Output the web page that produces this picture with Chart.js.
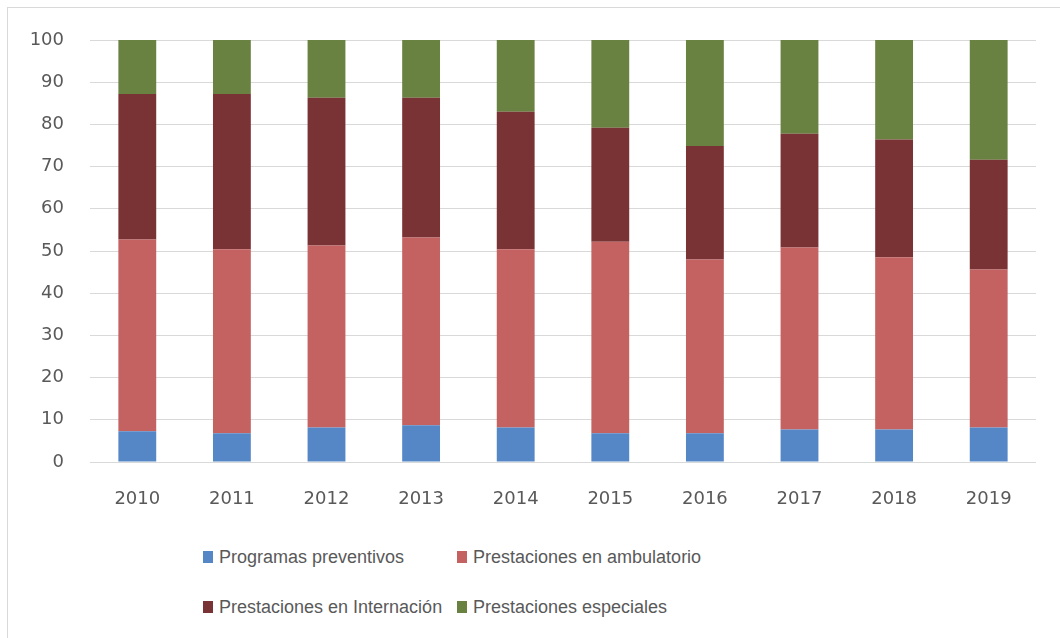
<!DOCTYPE html>
<html>
<head>
  <meta charset="utf-8">
  <script src="https://cdn.jsdelivr.net/npm/chart.js"></script>
  <style>
    body { margin: 0; background: #fff; }
    #frame { position: absolute; left: 7px; top: 7px; width: 1100px; height: 700px; border: 1px solid #d9d9d9; }
    #wrap { position: absolute; left: 0; top: 0; width: 1060px; height: 520px; }
    #legend { position: absolute; left: 203px; top: 546px; display: grid; grid-template-columns: 254px auto; row-gap: 28px;
              font-family: "Liberation Sans", Arial, sans-serif; font-size: 18px; color: #595959; }
    #legend div { display: flex; align-items: center; height: 22px; }
    #legend span.box { display: inline-block; width: 10px; height: 12px; margin-right: 6px; }
  </style>
</head>
<body>
  <div id="frame"></div>
  <div id="wrap"><canvas id="myChart" width="1060" height="520"></canvas></div>
  <div id="legend"></div>

  <script>
    // Años
    const years = ['2010', '2011', '2012', '2013', '2014', '2015', '2016', '2017', '2018', '2019'];

    // Porcentajes por tipo de prestación
    const preventivos   = [7.3, 6.8, 8.2, 8.7, 8.2, 6.8, 6.8, 7.7, 7.7, 8.2];
    const ambulatorio   = [45.4, 43.6, 43.1, 44.5, 42.2, 45.4, 41.2, 43.1, 40.8, 37.4];
    const internacion   = [34.5, 36.8, 35.0, 33.1, 32.6, 27.0, 26.9, 27.0, 27.9, 26.0];
    const especiales    = [12.8, 12.8, 13.7, 13.7, 17.0, 20.8, 25.1, 22.2, 23.6, 28.4];

    const seriesNames = ['Programas preventivos', 'Prestaciones en ambulatorio', 'Prestaciones en Internación', 'Prestaciones especiales'];
    const seriesColors = ['#5587c7', '#c46161', '#7a3334', '#698242'];
    const seriesData = [preventivos, ambulatorio, internacion, especiales];

    const tickFont = { family: '"DejaVu Sans", sans-serif', size: 18 };

    const ctx = document.getElementById('myChart').getContext('2d');
    const chart = new Chart(ctx, {
      type: 'bar',
      data: {
        labels: years,
        datasets: seriesNames.map((name, i) => ({
          label: name,
          data: seriesData[i],
          backgroundColor: seriesColors[i],
          borderWidth: 0,
          barPercentage: 0.4,
          categoryPercentage: 1.0
        }))
      },
      options: {
        responsive: false,
        animation: false,
        layout: { padding: { left: 10, right: 24, top: 40, bottom: 8 } },
        plugins: {
          legend: { display: false },
          tooltip: { enabled: false }
        },
        scales: {
          x: {
            stacked: true,
            grid: { display: false },
            border: { display: false },
            ticks: { color: '#595959', font: tickFont, padding: 19 },
            afterFit: s => { s.height = 50; }
          },
          y: {
            stacked: true,
            min: 0,
            max: 100,
            grid: { color: '#d9d9d9', lineWidth: 1, drawTicks: false },
            border: { display: false },
            ticks: { stepSize: 10, color: '#595959', font: tickFont, padding: 26 },
            afterFit: s => { s.width = 80; }
          }
        }
      }
    });

    // Leyenda en HTML (dos columnas)
    const legend = document.getElementById('legend');
    chart.data.datasets.forEach(ds => {
      const item = document.createElement('div');
      const box = document.createElement('span');
      box.className = 'box';
      box.style.background = ds.backgroundColor;
      item.appendChild(box);
      item.appendChild(document.createTextNode(ds.label));
      legend.appendChild(item);
    });
  </script>
</body>
</html>
